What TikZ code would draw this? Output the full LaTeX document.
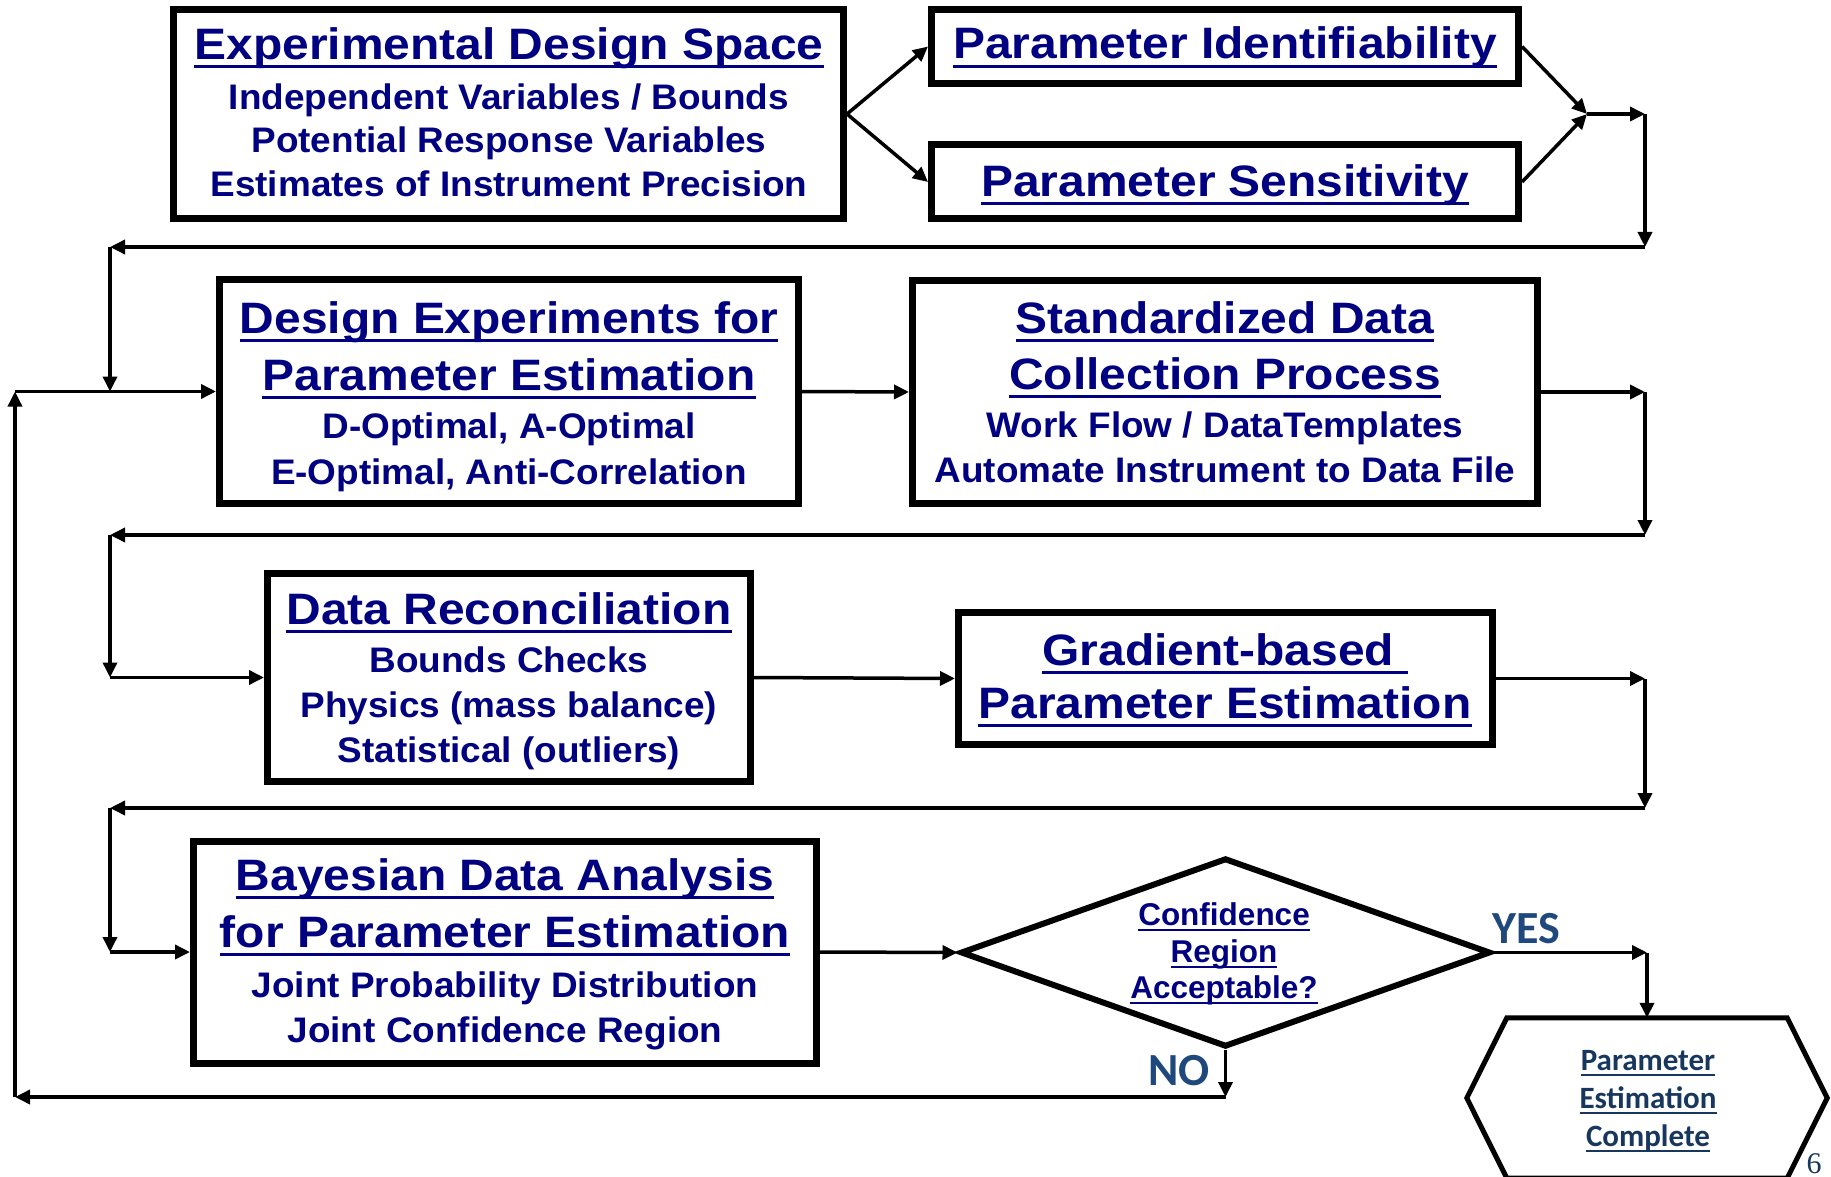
\documentclass[tikz,border=0pt]{standalone}
\usepackage{fontspec}
\usetikzlibrary{arrows.meta,shapes.geometric}
\newfontfamily\arialT{Liberation Sans}[FakeStretch=1.09]
\newfontfamily\arialS{Liberation Sans}[FakeStretch=1.04]
\newfontfamily\arialf{Liberation Sans}
\newfontfamily\calibf{Carlito}
\newfontfamily\seriff{Liberation Serif}
\definecolor{navyc}{RGB}{0,0,128}
\definecolor{yesno}{RGB}{31,73,125}
\definecolor{hexc}{RGB}{23,55,94}
\newsavebox\ulbox
\newcommand\ulb[1]{\sbox\ulbox{#1}\rlap{\rule[-9pt]{\wd\ulbox}{3pt}}\usebox\ulbox}
\newcommand\uls[1]{\sbox\ulbox{#1}\rlap{\rule[-6pt]{\wd\ulbox}{2.5pt}}\usebox\ulbox}
\tikzset{
  box/.style={draw=black, line width=7pt, fill=white, inner sep=0pt},
  conn/.style={line width=3.5pt, -{Triangle[length=15pt,width=14pt]}},
  ttl/.style={anchor=base, inner sep=0pt, text=navyc, font=\arialT\bfseries\fontsize{44}{54}\selectfont},
  subt/.style={anchor=base, inner sep=0pt, text=navyc, font=\arialS\bfseries\fontsize{35.5}{43}\selectfont},
  dtx/.style={anchor=base, inner sep=0pt, text=navyc, font=\arialf\bfseries\fontsize{31.5}{38}\selectfont},
  htx/.style={anchor=base, inner sep=0pt, text=hexc, font=\calibf\bfseries\fontsize{31}{38}\selectfont},
  yn/.style={anchor=base, inner sep=0pt, text=yesno, font=\calibf\bfseries\fontsize{46}{54}\selectfont}
}
\begin{document}
\begin{tikzpicture}[x=1pt,y=-1pt]
\fill[white] (0,0) rectangle (1831,1177);
\useasboundingbox (0,0) rectangle (1831,1177);

% boxes
\node[box, minimum width=670pt, minimum height=209pt] (b1) at (508.5,114) {};
\node[box, minimum width=587pt, minimum height=74pt] (pi) at (1225,46.5) {};
\node[box, minimum width=587pt, minimum height=74pt] (ps) at (1225,182) {};
\node[box, minimum width=579pt, minimum height=224pt] (b2) at (509,391.5) {};
\node[box, minimum width=625pt, minimum height=223pt] (b3) at (1225,392) {};
\node[box, minimum width=483pt, minimum height=208pt] (b4) at (509,677.5) {};
\node[box, minimum width=534pt, minimum height=132pt] (b6) at (1225.5,678.5) {};
\node[box, minimum width=623pt, minimum height=222pt] (b5) at (505,952) {};
\node[draw=black, diamond, line width=6pt, fill=white, inner sep=0pt,
      minimum width=530pt, minimum height=189pt] (dia) at (1225.5,952.5) {};
\node[inner sep=0pt, minimum width=280pt, minimum height=160pt] (hex) at (1647,1098) {};
\draw[line width=5pt, fill=white, line join=miter]
  (hex.north west) -- (hex.north east) -- ([xshift=40pt]hex.east) --
  (hex.south east) -- (hex.south west) -- ([xshift=-40pt]hex.west) -- cycle;

% texts
\node[ttl] (t1a) at (509,59.5) {\ulb{Experimental Design Space}};
\node[subt] (t1b) at (509,110) {Independent Variables / Bounds};
\node[subt] (t1c) at (509,153) {Potential Response Variables};
\node[subt] (t1d) at (509,197) {Estimates of Instrument Precision};

\node[ttl] (tpi) at (1225,59) {\ulb{Parameter Identifiability}};
\node[ttl] (tps) at (1225,196.5) {\ulb{Parameter Sensitivity}};

\node[ttl] (t2a) at (509,333) {\ulb{Design Experiments for}};
\node[ttl] (t2b) at (509,390) {\ulb{Parameter Estimation}};
\node[subt] (t2c) at (509,438) {D-Optimal, A-Optimal};
\node[subt] (t2d) at (509,484) {E-Optimal, Anti-Correlation};

\node[ttl] (t3a) at (1225,333) {\ulb{Standardized Data}};
\node[ttl] (t3b) at (1225,389) {\ulb{Collection Process}};
\node[subt] (t3c) at (1225,437) {Work Flow / DataTemplates};
\node[subt] (t3d) at (1225,482) {Automate Instrument to Data File};

\node[ttl] (t4a) at (509,624) {\ulb{Data Reconciliation}};
\node[subt] (t4b) at (509,672) {Bounds Checks};
\node[subt] (t4c) at (509,717) {Physics (mass balance)};
\node[subt] (t4d) at (509,762) {Statistical (outliers)};

\node[ttl] (t6a) at (1225,665) {\ulb{Gradient-based\ }};
\node[ttl] (t6b) at (1225,718) {\ulb{Parameter Estimation}};

\node[ttl] (t5a) at (505,890) {\ulb{Bayesian Data Analysis}};
\node[ttl] (t5b) at (505,947) {\ulb{for Parameter Estimation}};
\node[subt] (t5c) at (505,997) {Joint Probability Distribution};
\node[subt] (t5d) at (505,1042) {Joint Confidence Region};

\node[dtx] (tda) at (1224,925) {\uls{Confidence}};
\node[dtx] (tdb) at (1224,962) {\uls{Region}};
\node[dtx] (tdc) at (1224,998) {\uls{Acceptable?}};

\node[htx] (tha) at (1648,1070) {\uls{Parameter}};
\node[htx] (thb) at (1648,1108) {\uls{Estimation}};
\node[htx] (thc) at (1648,1146) {\uls{Complete}};

\node[yn] (yes) at (1526,943) {YES};
\node[yn] (no) at (1179,1085) {NO};
\node[anchor=base, inner sep=0pt, text=hexc, font=\seriff\fontsize{30}{36}\selectfont] (pg) at (1814,1173) {6};

% coordinates
\coordinate (m) at (1587,114);
\coordinate (c1) at (1645,114);
\coordinate (c2) at (1645,247);
\coordinate (c3) at (110,247);
\coordinate (c4) at (110,391.5);
\coordinate (c5) at (15,391.5);
\coordinate (d1) at (1645,392);
\coordinate (d2) at (1645,535);
\coordinate (d3) at (110,535);
\coordinate (d4) at (110,677.5);
\coordinate (e1) at (1645,678.5);
\coordinate (e2) at (1645,808);
\coordinate (e3) at (110,808);
\coordinate (e4) at (110,952);
\coordinate (y1) at (1647,952.5);
\coordinate (n1) at (1225.5,1097);
\coordinate (n2) at (15,1097);

% connectors
\draw[conn] (b1.east) -- (pi.west);
\draw[conn] (b1.east) -- (ps.west);
\draw[conn] (pi.east) -- (m);
\draw[conn] (ps.east) -- (m);
\draw[conn] (m) -- (c1);
\draw[conn] (c1) -- (c2);
\draw[conn] (c2) -- (c3);
\draw[conn] (c3) -- (c4);
\draw[conn] (c5) -- (b2.west);

\draw[conn] (b2.east) -- (b3.west);
\draw[conn] (b3.east) -- (d1);
\draw[conn] (d1) -- (d2);
\draw[conn] (d2) -- (d3);
\draw[conn] (d3) -- (d4);
\draw[conn] (d4) -- (b4.west);

\draw[conn] (b4.east) -- (b6.west);
\draw[conn] (b6.east) -- (e1);
\draw[conn] (e1) -- (e2);
\draw[conn] (e2) -- (e3);
\draw[conn] (e3) -- (e4);
\draw[conn] (e4) -- (b5.west);

\draw[conn] (b5.east) -- (dia.west);
\draw[conn] (dia.east) -- (y1);
\draw[conn] (y1) -- (hex.north);
\draw[conn] (dia.south) -- (n1);
\draw[conn] (n1) -- (n2);
\draw[conn] (n2) -- (c5);
\end{tikzpicture}
\end{document}
